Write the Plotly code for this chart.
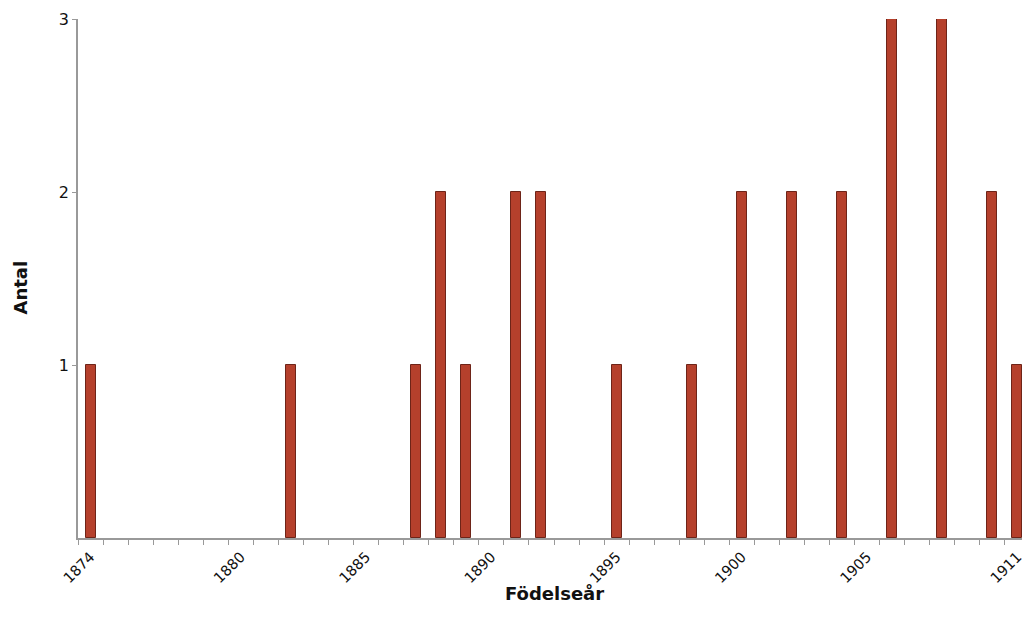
import plotly.graph_objects as go

years = [1874, 1882, 1887, 1888, 1889, 1891, 1892, 1895, 1898, 1900, 1902, 1904, 1906, 1908, 1910, 1911]
counts = [1, 1, 1, 2, 1, 2, 2, 1, 1, 2, 2, 2, 3, 3, 2, 1]
x_tick_labels = [1874, 1880, 1885, 1890, 1895, 1900, 1905, 1911]
y_tick_labels = [1, 2, 3]
x_title = "Födelseår"
y_title = "Antal"

fig = go.Figure()
fig.add_trace(go.Bar(
    x=years, y=counts, width=0.4,
    marker=dict(color="#b5402c", line=dict(color="#6e2418", width=1)),
))

# page body has an 8px margin; figure size/margins compensate for it
fig.update_layout(
    width=1022, height=619, autosize=False,
    margin=dict(l=70, r=0, t=11, b=89),
    plot_bgcolor="white", paper_bgcolor="white",
    showlegend=False,
    font=dict(family="DejaVu Sans", size=15, color="#111"),
    bargap=0,
)
fig.update_xaxes(
    range=[1873.5, 1911.5], automargin=False,
    tickmode="array", tickvals=x_tick_labels, ticktext=[str(v) for v in x_tick_labels],
    tickangle=-45, ticks="", showgrid=False, zeroline=False,
    tickfont=dict(size=14.5), ticklabelstandoff=3,
    showline=True, linecolor="#999", linewidth=1.5,
    minor=dict(tickmode="linear", tick0=1873.5, dtick=1, ticks="outside",
               ticklen=5, tickcolor="#999", tickwidth=1, showgrid=False),
)
fig.update_yaxes(
    range=[0, 3], automargin=False,
    tickmode="array", tickvals=y_tick_labels,
    tickfont=dict(size=16),
    ticks="outside", ticklen=4, tickcolor="#999",
    showgrid=False, zeroline=False,
    showline=True, linecolor="#999", linewidth=1.5,
)
fig.add_annotation(text=f"<b>{x_title}</b>", xref="paper", yref="paper", x=0.5, y=0,
                   yshift=-55, showarrow=False, xanchor="center", yanchor="middle",
                   font=dict(family="DejaVu Sans", size=18, color="#111"))
fig.add_annotation(text=f"<b>{y_title}</b>", xref="paper", yref="paper", x=0, y=0.5,
                   xshift=-58, yshift=-9, textangle=-90, showarrow=False,
                   xanchor="center", yanchor="middle",
                   font=dict(family="DejaVu Sans", size=18, color="#111"))

fig.write_html("out.html")
